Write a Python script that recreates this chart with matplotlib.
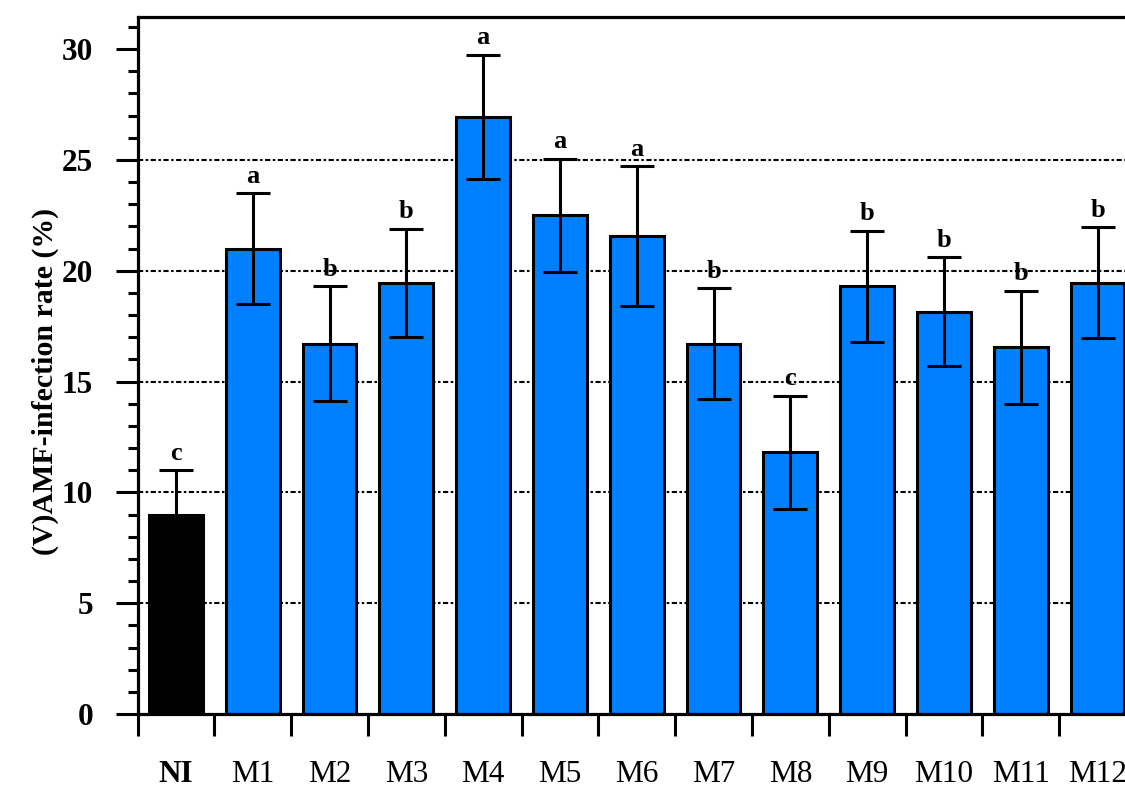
import numpy as np
import matplotlib
matplotlib.use("Agg")
import matplotlib.pyplot as plt
from matplotlib.ticker import FixedLocator, MultipleLocator

plt.rcParams['font.family'] = ['Liberation Serif', 'DejaVu Serif']

# infection rate per treatment, mean and error
groups = ['NI', 'M1', 'M2', 'M3', 'M4', 'M5', 'M6', 'M7', 'M8', 'M9', 'M10', 'M11', 'M12']
rate = [9.0, 21.0, 16.7, 19.45, 26.95, 22.5, 21.55, 16.7, 11.8, 19.3, 18.15, 16.55, 19.45]
err = [2.0, 2.5, 2.6, 2.45, 2.8, 2.55, 3.15, 2.5, 2.55, 2.5, 2.45, 2.55, 2.5]
letters = ['c', 'a', 'b', 'b', 'a', 'a', 'a', 'b', 'c', 'b', 'b', 'b', 'b']

blue = '#0080ff'
colors = ['black'] + [blue] * (len(groups) - 1)

fig = plt.figure(figsize=(11.25, 7.85), dpi=100)
W, H = 1125, 785
x0, x1, y0, y1 = 137.5, 1136, 714, 17
ax = fig.add_axes([x0 / W, 1 - y0 / H, (x1 - x0) / W, (y0 - y1) / H])

x = np.arange(len(groups))

# dotted reference lines behind the bars
for g in [5, 10, 15, 20, 25]:
    ax.axhline(g, color='black', lw=1.5, ls=(0, (2.5, 1.2, 1.2, 1.2)), zorder=1)

ax.bar(x, rate, width=0.7, color=colors, edgecolor='black', linewidth=2.2, zorder=2)
ax.errorbar(x, rate, yerr=err, fmt='none', ecolor='black', elinewidth=2.2,
            capsize=12, capthick=2.2, zorder=3)

for xi, r, e, lab in zip(x, rate, err, letters):
    ax.annotate(lab, (xi, r + e), xytext=(0, 4), textcoords='offset points',
                ha='center', va='bottom', fontsize=19, fontweight='bold')

ax.set_xlim(-0.5, len(groups) - 0.5)
ax.set_ylim(0, 30 + 32 / 22.16)

# y axis
ax.set_yticks([0, 5, 10, 15, 20, 25, 30])
ax.yaxis.set_minor_locator(MultipleLocator(1))
ax.tick_params(axis='y', which='major', direction='out', length=16, width=2.2,
               pad=16, labelsize=22.5)
ax.tick_params(axis='y', which='minor', direction='out', length=7.5, width=2.2)
for t in ax.get_yticklabels():
    t.set_fontweight('bold')

# x axis: ticks between the bars, labels under the bars
ax.set_xticks(x)
ax.set_xticklabels(groups)
ax.xaxis.set_minor_locator(FixedLocator(np.arange(-0.5, len(groups), 1.0)))
ax.tick_params(axis='x', which='major', length=0, pad=33, labelsize=22.5)
ax.tick_params(axis='x', which='minor', direction='out', length=16, width=2.2)
ax.get_xticklabels()[0].set_fontweight('bold')

for s in ['left', 'bottom', 'top']:
    ax.spines[s].set_linewidth(2.3)
ax.spines['right'].set_visible(False)

fig.text(45 / W, 1 - 381.5 / H, '(V)AMF-infection rate (%)', rotation=90,
         ha='center', va='center', fontsize=21.5, fontweight='bold')

fig.savefig('out.png', dpi=100)
